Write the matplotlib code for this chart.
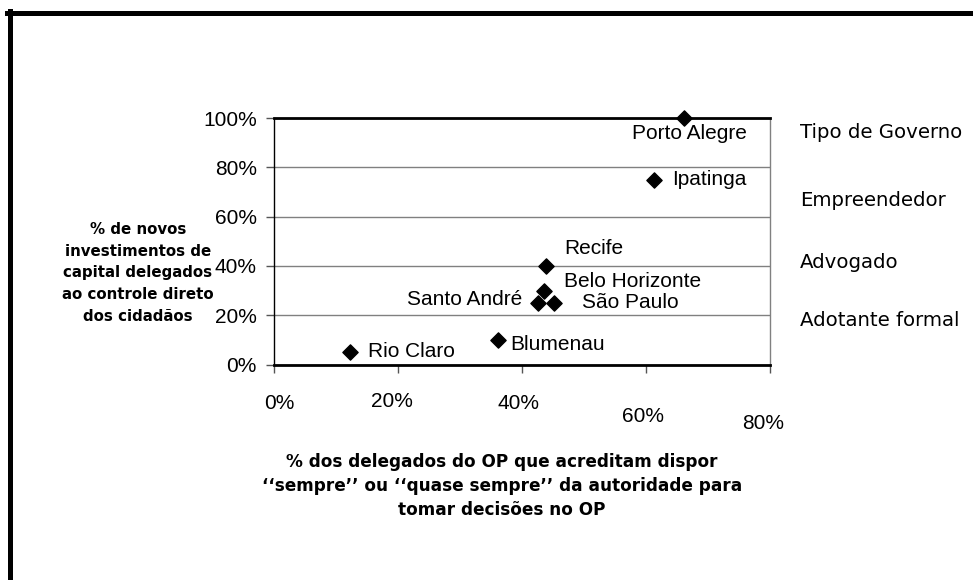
import matplotlib
matplotlib.use("Agg")
import matplotlib.pyplot as plt
import matplotlib.transforms as mtrans
from matplotlib.lines import Line2D
from matplotlib.ticker import PercentFormatter

# data (fractions)
cities = ["Porto Alegre", "Ipatinga", "Recife", "Belo Horizonte",
          "Santo André", "São Paulo", "Blumenau", "Rio Claro"]
pct_autoridade = [0.661, 0.613, 0.439, 0.436, 0.425, 0.452, 0.361, 0.123]
pct_investimento = [1.00, 0.75, 0.40, 0.30, 0.25, 0.25, 0.10, 0.05]
x_ticks = [0.0, 0.2, 0.4, 0.6, 0.8]
y_ticks = [0.0, 0.2, 0.4, 0.6, 0.8, 1.0]
tipos = ["Tipo de Governo", "Empreendedor", "Advogado", "Adotante formal"]

# label placement, pixels from the marker (dx, dy, ha)
label_off = {
    "Porto Alegre": (-52, -15, "left"),
    "Ipatinga": (18, 0, "left"),
    "Recife": (18, 17, "left"),
    "Belo Horizonte": (20, 9, "left"),
    "Santo André": (-15, 3, "right"),
    "São Paulo": (28, 0, "left"),
    "Blumenau": (12, -5, "left"),
    "Rio Claro": (18, 1, "left"),
}
# the x tick labels are a bit scattered in the original (px)
xlab_shift = [(5, 0), (-6, 2), (-3, 0), (-3, -13), (-7, -20)]

SANS = "Liberation Sans"
GOTH = "DejaVu Sans"
W, H = 973, 580

fig = plt.figure(figsize=(W / 100, H / 100), dpi=100)
ax = fig.add_axes([274 / W, 1 - 364.5 / H, 496 / W, 246.5 / H])

ax.scatter(pct_autoridade, pct_investimento, marker="D", s=60, color="black",
           zorder=5, clip_on=False)
for c, xv, yv in zip(cities, pct_autoridade, pct_investimento):
    dx, dy, ha = label_off[c]
    ax.annotate(c, (xv, yv), xytext=(dx, dy), textcoords="offset pixels",
                ha=ha, va="center", fontsize=15, family=SANS)

ax.set_xlim(0, 0.8)
ax.set_ylim(0, 1.0)
ax.set_xticks(x_ticks)
ax.set_yticks(y_ticks)
ax.xaxis.set_major_formatter(PercentFormatter(1.0, decimals=0))
ax.yaxis.set_major_formatter(PercentFormatter(1.0, decimals=0))
ax.tick_params(axis="y", length=6, width=1, pad=6.5, labelsize=15, color="#555555")
ax.tick_params(axis="x", length=6, width=1, pad=15, labelsize=15, color="#555555")
for t in ax.get_xticklabels() + ax.get_yticklabels():
    t.set_family(SANS)

ax.yaxis.grid(True, color="#808080", lw=1)
ax.set_axisbelow(True)
ax.spines["left"].set_linewidth(1)
ax.spines["bottom"].set_linewidth(2)
ax.spines["top"].set_linewidth(2)
ax.spines["right"].set_color("#808080")
ax.spines["right"].set_linewidth(1)

fig.canvas.draw()
for t, (dx, dy) in zip(ax.get_xticklabels(), xlab_shift):
    t.set_transform(t.get_transform() + mtrans.Affine2D().translate(dx, dy))

# right hand column
for txt, ypx in zip(tipos, [133, 200, 262, 320]):
    fig.text(800 / W, 1 - ypx / H, txt, ha="left", va="center", fontsize=14.2,
             family=GOTH)

fig.text(138 / W, 1 - 273 / H,
         "% de novos\ninvestimentos de\ncapital delegados\nao controle direto\ndos cidadãos",
         ha="center", va="center", ma="center", fontsize=10.8, weight="bold",
         family=GOTH, linespacing=1.55)
fig.text(502 / W, 1 - 486 / H,
         "% dos delegados do OP que acreditam dispor\n"
         "\u2018\u2018sempre\u2019\u2019 ou \u2018\u2018quase sempre\u2019\u2019 da autoridade para\n"
         "tomar decisões no OP",
         ha="center", va="center", ma="center", fontsize=12.2, weight="bold",
         family=GOTH, linespacing=1.43)

# thick frame (top and left only, the rest is cut off)
fig.add_artist(Line2D([7 / W, 1], [1 - 12.5 / H, 1 - 12.5 / H], color="black",
                      lw=3.6, transform=fig.transFigure))
fig.add_artist(Line2D([9.5 / W, 9.5 / W], [0, 1 - 10.5 / H], color="black",
                      lw=3.6, transform=fig.transFigure))

fig.savefig("out.png", dpi=100)
